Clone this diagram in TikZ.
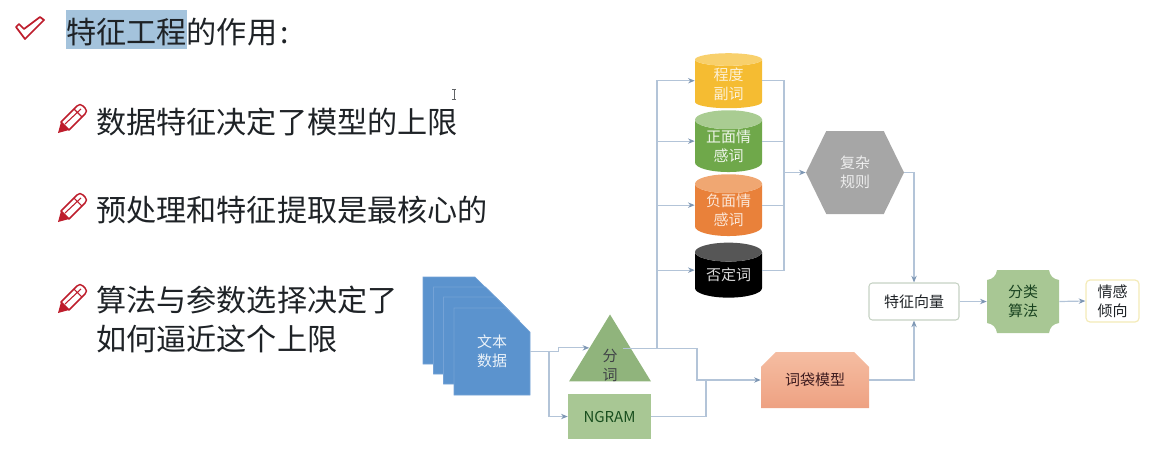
\documentclass[tikz,border=0pt]{standalone}
\usepackage{fontspec}
\usepackage{xcolor}
\usetikzlibrary{positioning,arrows.meta,calc,shapes.misc,shapes.geometric,shapes.symbols}
\newfontfamily\cjk{Noto Sans CJK SC}
\definecolor{ink}{HTML}{1E2226}
\definecolor{markred}{HTML}{BE1E2D}
\definecolor{hilite}{HTML}{A4C3DC}
\definecolor{wire}{HTML}{B3C4D8}
\definecolor{tipc}{HTML}{7E97B4}
\definecolor{docfill}{HTML}{5B93CE}
\definecolor{docline}{HTML}{74A2D6}
\definecolor{leaf}{HTML}{A8C794}
\definecolor{leafdk}{HTML}{90B47C}
\definecolor{yelbody}{HTML}{F5BC32}
\definecolor{yeltop}{HTML}{F8D06C}
\definecolor{grnbody}{HTML}{6FA84A}
\definecolor{grntop}{HTML}{A9CC92}
\definecolor{orgbody}{HTML}{E9813A}
\definecolor{orgtop}{HTML}{F0A772}
\definecolor{blktop}{HTML}{565656}
\definecolor{hexfill}{HTML}{A6A6A6}
\definecolor{bagtop}{HTML}{F5BDA2}
\definecolor{bagbot}{HTML}{EEA182}
\definecolor{vecline}{HTML}{C6D2C4}
\definecolor{moodline}{HTML}{F4EBB8}
\newcommand{\bigf}{\cjk\fontsize{22.6}{29.25}\selectfont}
\newcommand{\smlf}{\cjk\fontsize{11.25}{14.5}\selectfont}
% pencil icon, #1 = top left corner of its box
\newcommand{\penmark}[1]{
\begin{scope}[shift={#1}]
\draw[draw=markred, line width=1.1pt, line join=round, fill=white] (3,18) -- (19,2) .. controls (21,0) and (23,0) .. (25,2) -- (27,4) .. controls (29,6) and (29,8) .. (27,10) -- (11,26) -- cycle;
\fill[markred] (0,29) -- (3,18) -- (11,26) -- cycle;
\draw[draw=markred, line width=0.8pt] (7,20) -- (23,5) (16,5) -- (24,13);
\end{scope}
}

\begin{document}
\begin{tikzpicture}[
  x=0.75pt, y=-0.75pt,
  text=ink, font=\smlf,
  ln/.style={line width=0.9pt, draw=wire},
  arr/.style={ln, -{Stealth[length=5pt, width=4pt, color=tipc]}},
  sheet/.style={chamfered rectangle, chamfered rectangle corners=north east, chamfered rectangle xsep=9pt, chamfered rectangle ysep=9pt,
                minimum width=57pt, minimum height=65.25pt, inner sep=0pt, fill=docfill, draw=docline, line width=0.5pt, align=center},
  drum/.style={cylinder, shape border rotate=90, aspect=0.42, cylinder uses custom fill, minimum width=50.25pt, minimum height=41.25pt,
               inner sep=0pt, align=center},
  blk/.style={inner sep=0pt, anchor=west, align=left, font=\bigf},
]
\useasboundingbox (0,0) rectangle (1159,454);

% ---------------- left column: title and bullets ----------------
\node[fill=hilite, minimum width=90.75pt, minimum height=29.25pt, inner sep=0pt] (hl) at (126.5,29.5) {};
\node[blk] (ttl) at (66,32) {特征工程的作用\hspace{2.5pt}:};
\draw[draw=markred, line width=1.3pt, line join=round] (16,27) -- (19,24) -- (24,29) -- (40,17) -- (44,20) -- (25,39) -- cycle;
\penmark{(58,104)}
\penmark{(58,193)}
\penmark{(58,284)}
\node[blk] (b1) at (96,122) {数据特征决定了模型的上限};
\node[blk] (b2) at (96,210) {预处理和特征提取是最核心的};
\node[blk] (b3) at (96,319.5) {算法与参数选择决定了\\如何逼近这个上限};
% text cursor
\draw[draw=ink!70, line width=0.6pt] (452,89) -- (456,89) (454,89) -- (454,99) (452,99) -- (456,99);

% ---------------- document stack ----------------
\node[sheet] (sheet1) at (461,320.5) {\phantom{文本}\\\phantom{数据}};
\node[sheet] (sheet2) at (471.5,330.5) {\phantom{文本}\\\phantom{数据}};
\node[sheet] (sheet3) at (481.5,340.5) {\phantom{文本}\\\phantom{数据}};
\node[sheet, text=white!88!docfill] (doc) at (492,351.5) {文本\\数据};

% ---------------- segmentation and ngram ----------------
\node[isosceles triangle, shape border rotate=90, isosceles triangle apex angle=63, isosceles triangle stretches,
      minimum width=61.5pt, minimum height=50.25pt, inner sep=0pt, fill=leafdk] (seg) at (610,358.5) {};
\node[inner sep=0pt, align=center, text=ink!85, font=\smlf] (segtxt) at (610,365.5) {分\\词};
\node[fill=leaf, minimum width=62.25pt, minimum height=33.75pt, inner sep=0pt, text=ink!80!green] (ngram) at (609.5,416.5) {NGRAM};

% ---------------- dictionaries ----------------
\node[drum, cylinder body fill=yelbody, cylinder end fill=yeltop, text=white!80!yelbody] (deg) at (728.5,84) {程度\\副词};
\node[drum, cylinder body fill=grnbody, cylinder end fill=grntop, text=white!88!grnbody] (pos) at (728.5,146) {正面情\\感词};
\node[drum, cylinder body fill=orgbody, cylinder end fill=orgtop, text=white!80!orgbody] (neg) at (728.5,210) {负面情\\感词};
\node[drum, cylinder body fill=black, cylinder end fill=blktop, text=white!85!black] (nega) at (728.5,275) {否定词};

% ---------------- rules, bag of words, output ----------------
\node[signal, signal to=east and west, signal pointer angle=128, minimum width=73.5pt, minimum height=62.25pt, inner sep=0pt,
      fill=hexfill, align=center, text=white!80!hexfill] (rules) at (855,172.5) {复杂\\规则};
\node[chamfered rectangle, chamfered rectangle corners={north east,north west}, chamfered rectangle xsep=6pt, chamfered rectangle ysep=6pt,
      minimum width=81pt, minimum height=42pt, inner sep=0pt, top color=bagtop, bottom color=bagbot, text=ink!85!red] (bag) at (815,380) {词袋模型};
\node[rounded corners=2.5pt, draw=vecline, line width=0.8pt, fill=white, minimum width=67.5pt, minimum height=27.75pt, inner sep=0pt] (vec) at (914,301.5) {特征向量};
\fill[leaf] (997,270) -- (1049,270) .. controls (1050,276) and (1053,279) .. (1059,280) -- (1059,323)
  .. controls (1053,324) and (1050,327) .. (1049,333) -- (997,333) .. controls (996,327) and (993,324) .. (987,323)
  -- (987,280) .. controls (993,279) and (996,276) .. (997,270) -- cycle;
\node[minimum width=54pt, minimum height=47.25pt, inner sep=0pt, align=center, text=ink!85!green] (algo) at (1023,301.5) {分类\\算法};
\node[rounded corners=3pt, draw=moodline, line width=0.9pt, fill=white, minimum width=39.75pt, minimum height=31.5pt, inner sep=0pt, align=center] (mood) at (1112.5,301) {情感\\倾向};

% ---------------- connectors ----------------
\coordinate (split) at (549,351.5);
\coordinate (trunk) at (657,348.5);
\coordinate (rulein) at (784,172.5);
\coordinate (bagjoin) at (706,380);
\coordinate (segout) at (623,348.5);
\coordinate (segturn) at (697,348.5);
\draw[arr] (doc.east) -- ++(28,0) |- (seg.left side);
\draw[arr] (split) |- (ngram.west);
\draw[arr] (segout) -- (segturn) |- (bag.west);
\draw[ln] (ngram.east) -| (bagjoin);
\draw[arr] (trunk) |- (deg.shape center -| deg.west);
\draw[arr] (trunk) |- (pos.shape center -| pos.west);
\draw[arr] (trunk) |- (neg.shape center -| neg.west);
\draw[arr] (trunk) |- (nega.shape center -| nega.west);
\draw[ln] (deg.shape center -| deg.east) -| (rulein);
\draw[ln] (pos.shape center -| pos.east) -| (rulein);
\draw[ln] (neg.shape center -| neg.east) -| (rulein);
\draw[ln] (nega.shape center -| nega.east) -| (rulein);
\draw[arr] (rulein) -- (rules.west);
\draw[arr] (rules.east) -| (vec.north);
\draw[arr] (bag.east) -| (vec.south);
\draw[arr] (vec.east) -- (algo.west);
\draw[arr] (algo.east) -- (mood.west);
\end{tikzpicture}
\end{document}
